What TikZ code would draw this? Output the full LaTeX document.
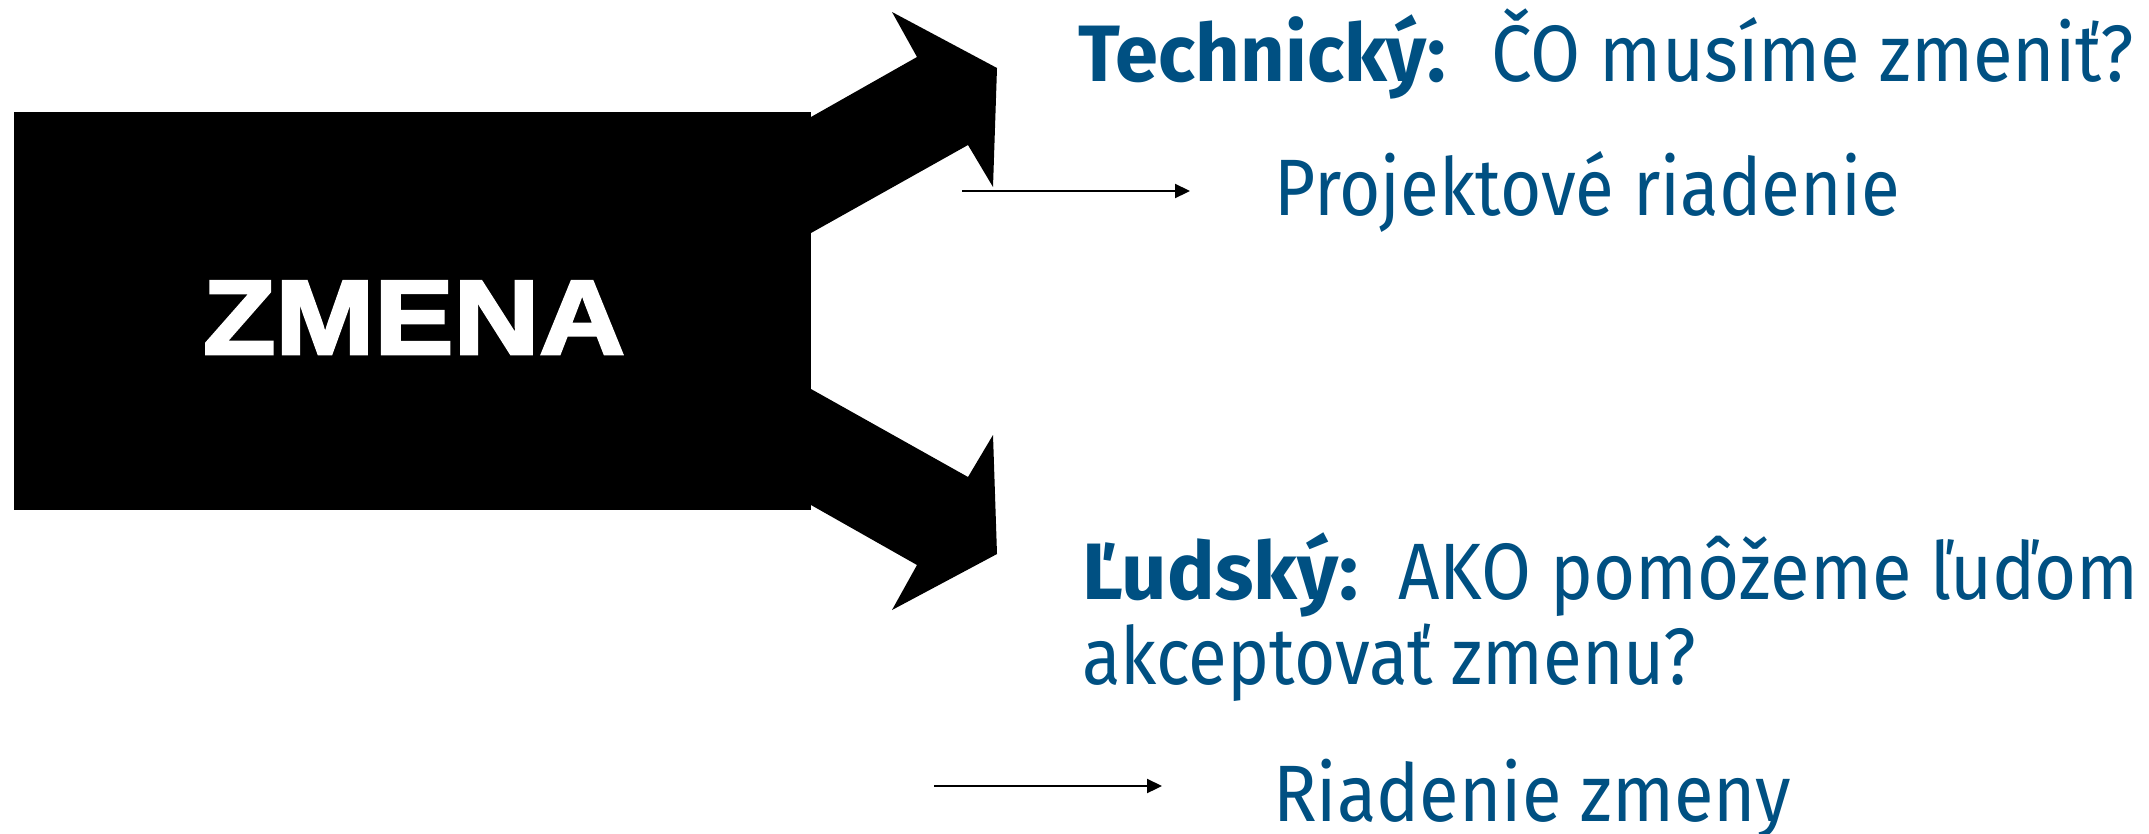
\documentclass[tikz,border=0pt]{standalone}
\usepackage{fontspec}
\usepackage{graphicx}
\setmainfont{Fira Sans}
\newfontfamily\zfont[FakeBold=2.5]{Liberation Sans Bold}
\usetikzlibrary{arrows.meta}
\definecolor{tblue}{RGB}{0,80,130}
\newcommand{\fitw}[2]{\resizebox{#1}{\height}{#2}}
\begin{document}
\begin{tikzpicture}[x=1pt,y=-1pt,
  txt/.style={inner sep=0pt, anchor=base west, text=tblue, font=\fontsize{80}{96}\selectfont},
  bigarrow/.style={fill=black, draw=none},
  smallarrow/.style={line width=2.2pt, -{Triangle[length=15pt,width=14pt]}}]
\useasboundingbox (0,0) rectangle (2149,833);
% main box
\node[fill=black, inner sep=0pt, minimum width=797pt, minimum height=398pt, anchor=north west] (box) at (14,112) {};
\node[inner sep=0pt, anchor=base, text=white, font=\zfont\fontsize{106}{120}\selectfont] (zmena) at (414,354) {\fitw{422pt}{ZMENA}};
% big arrows
\fill[bigarrow] (795,117) -- (811,117) -- (917,57) -- (892,12) -- (997,68) -- (993,187) -- (968,145) -- (811,233) -- (795,233) -- cycle;
\fill[bigarrow] (795,505) -- (811,505) -- (917,565) -- (892,610) -- (997,554) -- (993,435) -- (968,477) -- (811,389) -- (795,389) -- cycle;
% texts
\node[txt] (tech) at (1078,81) {\fitw{368pt}{\textbf{Technický:}}};
\node[txt] (co) at (1491,81) {\fitw{642pt}{ČO musíme zmeniť?}};
\node[txt] (proj) at (1274,215) {\fitw{626pt}{Projektové riadenie}};
\node[txt] (lud) at (1082,599) {\fitw{276pt}{\textbf{Ľudský:}}};
\node[txt] (ako) at (1398,599) {\fitw{740pt}{AKO pomôžeme ľuďom}};
\node[txt] (akc) at (1082,684) {\fitw{614pt}{akceptovať zmenu?}};
\node[txt] (riad) at (1273,821) {\fitw{518pt}{Riadenie zmeny}};
% small arrows
\coordinate (a1s) at (962,191);
\coordinate (a1e) at (1190,191);
\coordinate (a2s) at (934,786);
\coordinate (a2e) at (1162,786);
\draw[smallarrow] (a1s) -- (a1e);
\draw[smallarrow] (a2s) -- (a2e);
\end{tikzpicture}
\end{document}
